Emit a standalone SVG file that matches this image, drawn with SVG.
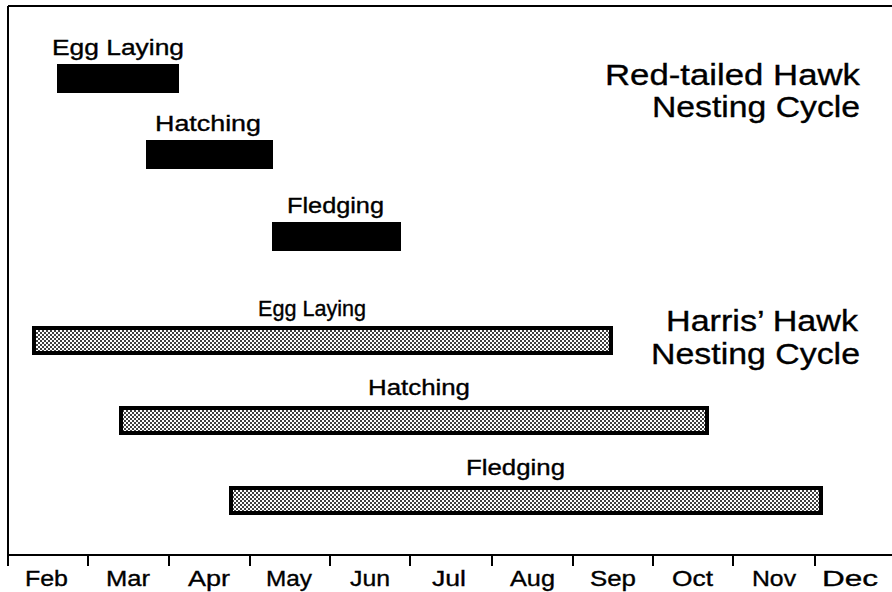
<svg xmlns="http://www.w3.org/2000/svg" width="892" height="592" viewBox="0 0 892 592">
<defs>
<pattern id="dots" width="4" height="4" patternUnits="userSpaceOnUse">
<rect width="4" height="4" fill="#fff"/>
<circle cx="1" cy="1" r="1" fill="#000"/>
<circle cx="3" cy="3" r="1" fill="#000"/>
</pattern>
</defs>
<style>
text{font-family:"Liberation Sans",Arial,sans-serif;fill:#000;stroke:#000;stroke-width:0.35}
.lbl{font-size:22px}
.mon{font-size:22px}
.title{font-size:30px}
.solid{fill:#000}
.dot{fill:url(#dots);stroke:#000;stroke-width:4}
.frame{stroke:#000;stroke-width:2;fill:none}
</style>
<rect width="892" height="592" fill="#fff"/>
<g id="frame">
<path class="frame" d="M8,6 H892 M8,6 V566 M8,555 H892"/>
<path class="frame" d="M88,555 V566 M169,555 V566 M250,555 V566 M330,555 V566 M410,555 V566 M492,555 V566 M573,555 V566 M653,555 V566 M733,555 V566 M815,555 V566"/>
</g>
<g id="months">
<text class="mon" x="25" y="586" textLength="43" lengthAdjust="spacingAndGlyphs">Feb</text>
<text class="mon" x="106" y="586" textLength="44" lengthAdjust="spacingAndGlyphs">Mar</text>
<text class="mon" x="188" y="586" textLength="42" lengthAdjust="spacingAndGlyphs">Apr</text>
<text class="mon" x="266" y="586" textLength="46" lengthAdjust="spacingAndGlyphs">May</text>
<text class="mon" x="350" y="586" textLength="40" lengthAdjust="spacingAndGlyphs">Jun</text>
<text class="mon" x="432" y="586" textLength="34" lengthAdjust="spacingAndGlyphs">Jul</text>
<text class="mon" x="510" y="586" textLength="45" lengthAdjust="spacingAndGlyphs">Aug</text>
<text class="mon" x="590" y="586" textLength="46" lengthAdjust="spacingAndGlyphs">Sep</text>
<text class="mon" x="672" y="586" textLength="41" lengthAdjust="spacingAndGlyphs">Oct</text>
<text class="mon" x="752" y="586" textLength="44" lengthAdjust="spacingAndGlyphs">Nov</text>
<text class="mon" x="822" y="586" textLength="56" lengthAdjust="spacingAndGlyphs">Dec</text>
</g>
<g id="redtail-title">
<text class="title" x="605" y="85" textLength="255" lengthAdjust="spacingAndGlyphs">Red-tailed Hawk</text>
<text class="title" x="652" y="117" textLength="208" lengthAdjust="spacingAndGlyphs">Nesting Cycle</text>
</g>
<g id="harris-title">
<text class="title" x="666" y="331" textLength="192" lengthAdjust="spacingAndGlyphs">Harris’ Hawk</text>
<text class="title" x="651" y="364" textLength="209" lengthAdjust="spacingAndGlyphs">Nesting Cycle</text>
</g>
<g id="rt-egg">
<text class="lbl" x="52" y="55" textLength="132" lengthAdjust="spacingAndGlyphs">Egg Laying</text>
<rect class="solid" x="57" y="64" width="122" height="29"/>
</g>
<g id="rt-hatch">
<text class="lbl" x="155" y="131" textLength="106" lengthAdjust="spacingAndGlyphs">Hatching</text>
<rect class="solid" x="146" y="140" width="127" height="29"/>
</g>
<g id="rt-fledge">
<text class="lbl" x="287" y="213" textLength="97" lengthAdjust="spacingAndGlyphs">Fledging</text>
<rect class="solid" x="272" y="222" width="129" height="29"/>
</g>
<g id="hh-egg">
<text class="lbl" x="258" y="316" textLength="108" lengthAdjust="spacingAndGlyphs">Egg Laying</text>
<rect class="dot" x="34" y="328" width="577" height="25"/>
</g>
<g id="hh-hatch">
<text class="lbl" x="368" y="395" textLength="102" lengthAdjust="spacingAndGlyphs">Hatching</text>
<rect class="dot" x="121" y="408" width="586" height="25"/>
</g>
<g id="hh-fledge">
<text class="lbl" x="466" y="475" textLength="99" lengthAdjust="spacingAndGlyphs">Fledging</text>
<rect class="dot" x="231" y="488" width="590" height="25"/>
</g>
</svg>
